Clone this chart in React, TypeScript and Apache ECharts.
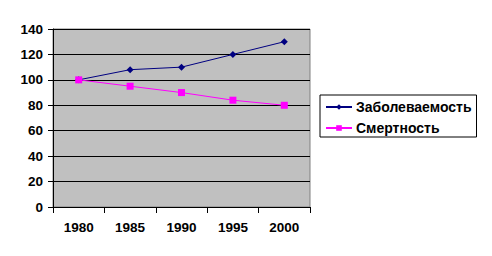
import React, { useEffect, useRef } from "react";
import * as echarts from "echarts";

const categories = ["1980", "1985", "1990", "1995", "2000"];
const morbidity = [100, 108, 110, 120, 130];
const mortality = [100, 95, 90, 84, 80];
const seriesNames = ["Заболеваемость", "Смертность"];

export default function App() {
  const ref = useRef<HTMLDivElement>(null);
  useEffect(() => {
    const chart = echarts.init(ref.current!, null, { renderer: "svg" });
    const font = "Liberation Sans, Arial, sans-serif";
    chart.setOption({
      animation: false,
      backgroundColor: "#ffffff",
      grid: {
        left: 53,
        right: 182,
        top: 29,
        bottom: 49,
        show: true,
        backgroundColor: "#c0c0c0",
        borderColor: "#808080",
        borderWidth: 1,
      },
      legend: {
        orient: "vertical",
        left: 320,
        top: 95,
        padding: [5, 5, 2, 5],
        itemGap: 7,
        itemWidth: 26,
        itemHeight: 7,
        borderColor: "#000",
        borderWidth: 1,
        textStyle: { fontFamily: font, fontWeight: "bold", fontSize: 14, color: "#000", padding: [0, 0, 0, -1] },
        data: seriesNames,
      },
      xAxis: {
        type: "category",
        data: categories,
        boundaryGap: true,
        axisLine: { show: true, lineStyle: { color: "#000", width: 1 } },
        axisTick: { show: true, length: 6, lineStyle: { color: "#000" } },
        axisLabel: { fontFamily: font, fontWeight: "bold", fontSize: 13.5, color: "#000", margin: 13 },
      },
      yAxis: {
        type: "value",
        min: 0,
        max: 140,
        interval: 20,
        axisLine: { show: true, lineStyle: { color: "#000", width: 1 } },
        axisTick: { show: true, length: 5, lineStyle: { color: "#000" } },
        axisLabel: { fontFamily: font, fontWeight: "bold", fontSize: 13.5, color: "#000", margin: 10 },
        splitLine: { show: true, lineStyle: { color: "#000", width: 1 } },
      },
      series: [
        {
          name: seriesNames[0],
          type: "line",
          data: morbidity,
          symbol: "diamond",
          symbolSize: 7,
          itemStyle: { color: "#000080" },
          lineStyle: { color: "#000080", width: 1 },
        },
        {
          name: seriesNames[1],
          type: "line",
          data: mortality,
          symbol: "rect",
          symbolSize: 7,
          itemStyle: { color: "#ff00ff" },
          lineStyle: { color: "#ff00ff", width: 1 },
        },
      ],
    });
    return () => chart.dispose();
  }, []);
  return <div ref={ref} style={{ width: 492, height: 256, position: "absolute", left: 0, top: 0 }} />;
}
